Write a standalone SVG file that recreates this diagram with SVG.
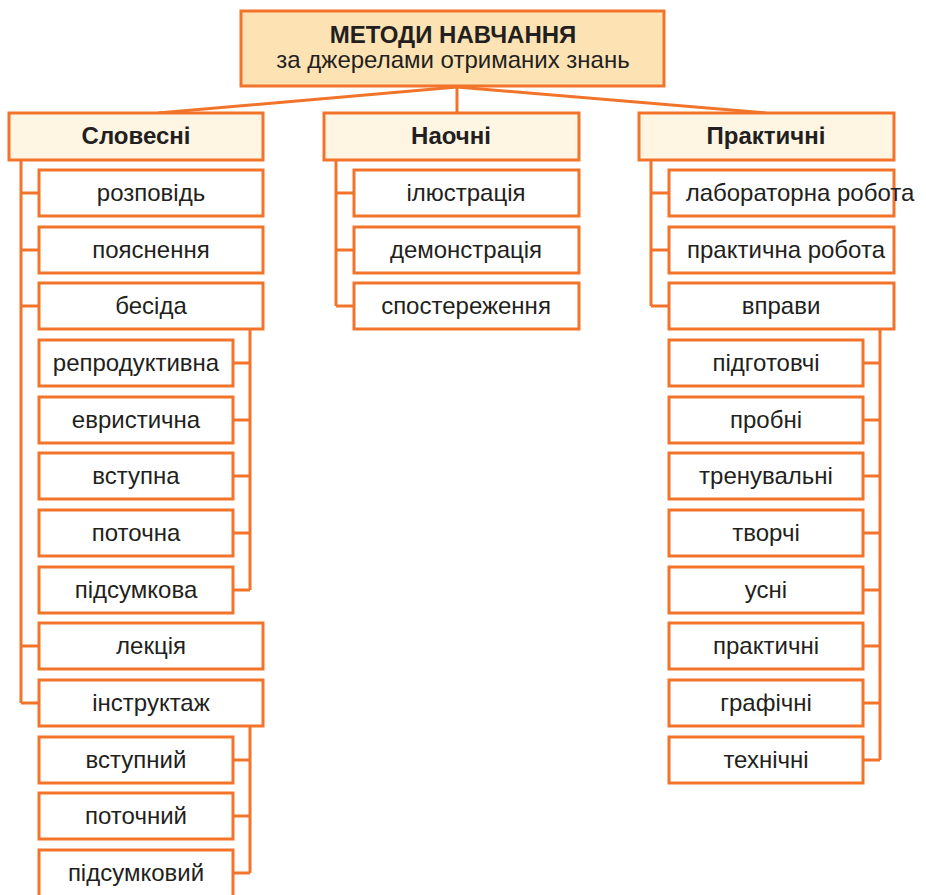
<svg xmlns="http://www.w3.org/2000/svg" width="926" height="895" viewBox="0 0 926 895">
<style>
.b{fill:#fff;stroke:#F1742A;stroke-width:3}
.c{fill:#FEF5E3;stroke:#F1742A;stroke-width:3}
.t{fill:#FDE3B3;stroke:#F1742A;stroke-width:3}
.l{fill:none;stroke:#F1742A;stroke-width:3}
text{font-family:"Liberation Sans",Arial,sans-serif;font-size:24px;fill:#231F20;text-anchor:middle}
.h{font-weight:bold}
</style>
<rect width="926" height="895" fill="#fff"/>
<g id="connectors">
<path class="l" d="M457,87V113M457,87L158,113M457,87L766,113"/>
<path class="l" d="M21,160V703M21,193H39M21,250H39M21,306H39M21,646H39M21,703H39"/>
<path class="l" d="M250,330V590M233,363H250M233,420H250M233,476H250M233,533H250M233,590H250"/>
<path class="l" d="M250,726V873M233,760H250M233,816H250M233,873H250"/>
<path class="l" d="M336,160V306M336,193H354M336,250H354M336,306H354"/>
<path class="l" d="M651,160V306M651,193H669M651,250H669M651,306H669"/>
<path class="l" d="M880,330V760M863,363H880M863,420H880M863,476H880M863,533H880M863,590H880M863,646H880M863,703H880M863,760H880"/>
</g>
<g id="root"><rect class="t" x="241" y="11" width="423" height="75"/><text class="h" x="453" y="43" font-size="25">МЕТОДИ НАВЧАННЯ</text><text x="453" y="68">за джерелами отриманих знань</text></g>
<g id="slovesni"><rect class="c" x="9" y="113" width="254" height="47"/><text class="h" x="136" y="144">Словесні</text></g>
<g id="naochni"><rect class="c" x="324" y="113" width="255" height="47"/><text class="h" x="451" y="144">Наочні</text></g>
<g id="praktychni"><rect class="c" x="639" y="113" width="255" height="47"/><text class="h" x="766" y="144">Практичні</text></g>
<g id="s1"><rect class="b" x="39" y="170" width="224" height="46"/><text x="151" y="201">розповідь</text></g>
<g id="s2"><rect class="b" x="39" y="227" width="224" height="46"/><text x="151" y="258">пояснення</text></g>
<g id="s3"><rect class="b" x="39" y="283" width="224" height="46"/><text x="151" y="314">бесіда</text></g>
<g id="s3a"><rect class="b" x="39" y="340" width="194" height="46"/><text x="136" y="371">репродуктивна</text></g>
<g id="s3b"><rect class="b" x="39" y="397" width="194" height="46"/><text x="136" y="428">евристична</text></g>
<g id="s3c"><rect class="b" x="39" y="453" width="194" height="46"/><text x="136" y="484">вступна</text></g>
<g id="s3d"><rect class="b" x="39" y="510" width="194" height="46"/><text x="136" y="541">поточна</text></g>
<g id="s3e"><rect class="b" x="39" y="567" width="194" height="46"/><text x="136" y="598">підсумкова</text></g>
<g id="s4"><rect class="b" x="39" y="623" width="224" height="46"/><text x="151" y="654">лекція</text></g>
<g id="s5"><rect class="b" x="39" y="680" width="224" height="46"/><text x="151" y="711">інструктаж</text></g>
<g id="s5a"><rect class="b" x="39" y="737" width="194" height="46"/><text x="136" y="768">вступний</text></g>
<g id="s5b"><rect class="b" x="39" y="793" width="194" height="46"/><text x="136" y="824">поточний</text></g>
<g id="s5c"><rect class="b" x="39" y="850" width="194" height="47"/><text x="136" y="881">підсумковий</text></g>
<g id="n1"><rect class="b" x="354" y="170" width="225" height="46"/><text x="466" y="201">ілюстрація</text></g>
<g id="n2"><rect class="b" x="354" y="227" width="225" height="46"/><text x="466" y="258">демонстрація</text></g>
<g id="n3"><rect class="b" x="354" y="283" width="225" height="46"/><text x="466" y="314">спостереження</text></g>
<g id="p1"><rect class="b" x="669" y="170" width="225" height="46"/><text x="800" y="201">лабораторна робота</text></g>
<g id="p2"><rect class="b" x="669" y="227" width="225" height="46"/><text x="786" y="258">практична робота</text></g>
<g id="p3"><rect class="b" x="669" y="283" width="225" height="46"/><text x="781" y="314">вправи</text></g>
<g id="p3a"><rect class="b" x="669" y="340" width="194" height="46"/><text x="766" y="371">підготовчі</text></g>
<g id="p3b"><rect class="b" x="669" y="397" width="194" height="46"/><text x="766" y="428">пробні</text></g>
<g id="p3c"><rect class="b" x="669" y="453" width="194" height="46"/><text x="766" y="484">тренувальні</text></g>
<g id="p3d"><rect class="b" x="669" y="510" width="194" height="46"/><text x="766" y="541">творчі</text></g>
<g id="p3e"><rect class="b" x="669" y="567" width="194" height="46"/><text x="766" y="598">усні</text></g>
<g id="p3f"><rect class="b" x="669" y="623" width="194" height="46"/><text x="766" y="654">практичні</text></g>
<g id="p3g"><rect class="b" x="669" y="680" width="194" height="46"/><text x="766" y="711">графічні</text></g>
<g id="p3h"><rect class="b" x="669" y="737" width="194" height="46"/><text x="766" y="768">технічні</text></g>
</svg>
